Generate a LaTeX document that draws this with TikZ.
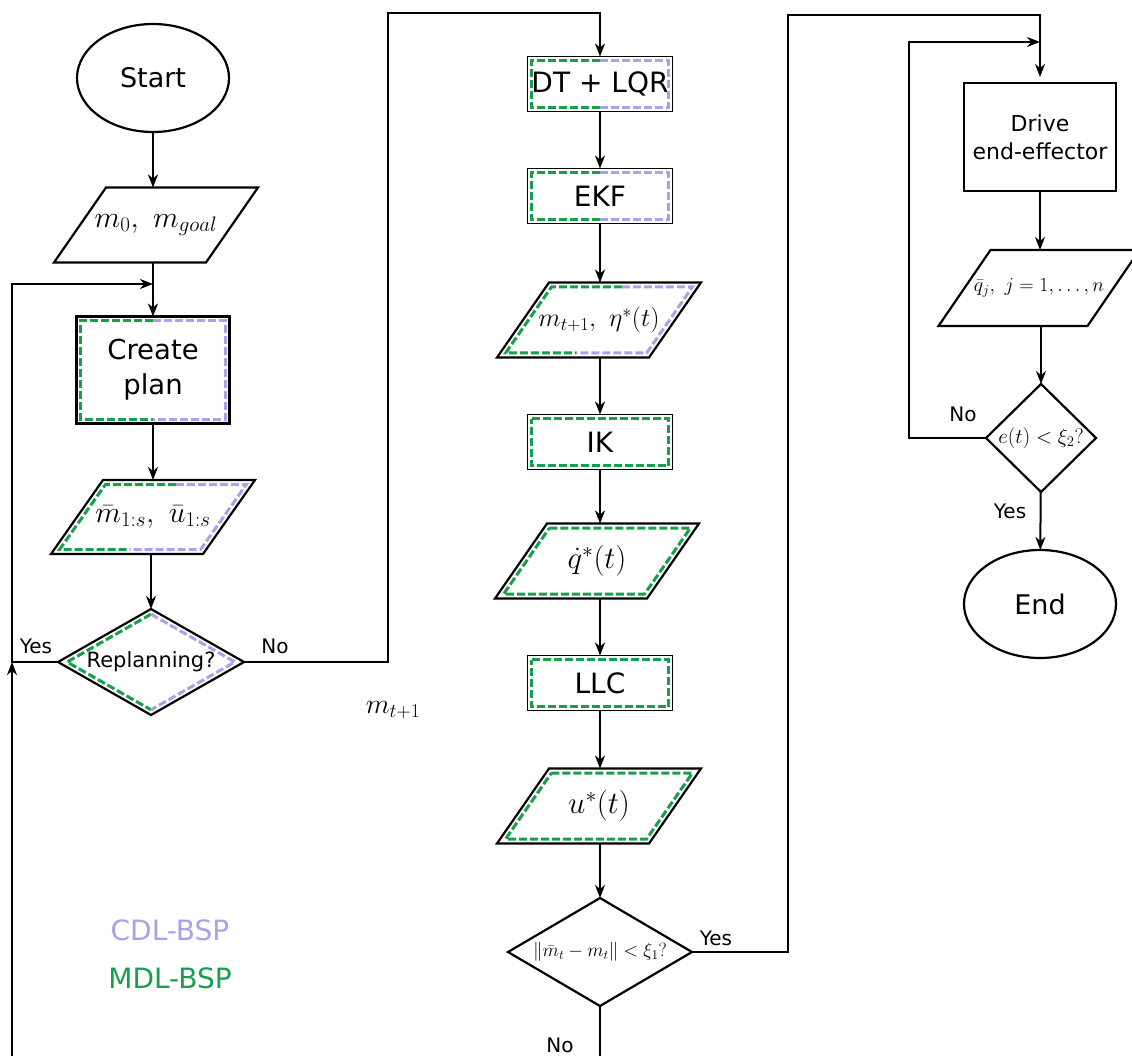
\RequirePackage{fix-cm}
\documentclass[tikz,border=0pt]{standalone}
\usepackage[no-math]{fontspec}
\setmainfont{DejaVu Sans}
\usetikzlibrary{shapes.geometric,arrows.meta,calc}
\definecolor{mdl}{RGB}{22,160,75}
\definecolor{cdl}{RGB}{172,160,234}
\newcommand{\fsz}[2]{\fontsize{#1}{#2}\selectfont}
% parallelogram helpers (slant 52, inset 4.5)
\newcommand{\paraouter}[1]{%
  \draw[outl] ($(#1.north west)+(26,0)$) -- ($(#1.north east)+(26,0)$) --
    ($(#1.south east)+(-26,0)$) -- ($(#1.south west)+(-26,0)$) -- cycle;}
\newcommand{\parasplit}[1]{%
  \draw[dsh,mdl] ($(#1.north)+(22.9,4.5)$) -- ($(#1.north west)+(28.4,4.5)$) --
    ($(#1.south west)+(-17.4,-4.5)$) -- ($(#1.south)+(-22.9,-4.5)$);
  \draw[dsh,cdl] ($(#1.north)+(22.9,4.5)$) -- ($(#1.north east)+(17.4,4.5)$) --
    ($(#1.south east)+(-28.4,-4.5)$) -- ($(#1.south)+(-22.9,-4.5)$);}
\newcommand{\paragreen}[1]{%
  \draw[dsh,mdl] ($(#1.north west)+(28.4,4.5)$) -- ($(#1.north east)+(17.4,4.5)$) --
    ($(#1.south east)+(-28.4,-4.5)$) -- ($(#1.south west)+(-17.4,-4.5)$) -- cycle;}
% rectangle helpers (inset 4)
\newcommand{\rectsplit}[1]{%
  \draw[dsh,mdl] ($(#1.north)+(0,4)$) -- ($(#1.north west)+(4,4)$) --
    ($(#1.south west)+(4,-4)$) -- ($(#1.south)+(0,-4)$);
  \draw[dsh,cdl] ($(#1.north)+(0,4)$) -- ($(#1.north east)+(-4,4)$) --
    ($(#1.south east)+(-4,-4)$) -- ($(#1.south)+(0,-4)$);}
\newcommand{\rectgreen}[1]{%
  \draw[dsh,mdl] ($(#1.north west)+(4,4)$) -- ($(#1.north east)+(-4,4)$) --
    ($(#1.south east)+(-4,-4)$) -- ($(#1.south west)+(4,-4)$) -- cycle;}
\newcommand{\diamouter}[1]{%
  \draw[outl] (#1.north) -- (#1.east) -- (#1.south) -- (#1.west) -- cycle;}
\begin{document}
\begin{tikzpicture}[x=1pt,y=-1pt,
  outl/.style={line width=2.2pt,line join=miter},
  arr/.style={line width=2pt,-{Stealth[length=13pt,width=10pt,inset=4pt]}},
  plainl/.style={line width=2pt},
  dsh/.style={line width=3pt,dash pattern=on 8pt off 3pt},
  box/.style={rectangle,draw,line width=2.2pt,inner sep=0pt,outer sep=0pt,align=center},
  sbox/.style={rectangle,draw,line width=1.5pt,inner sep=0pt,outer sep=0pt,align=center,
    minimum width=145pt,minimum height=55pt,font=\fsz{28}{33}},
  term/.style={ellipse,draw,line width=2.2pt,minimum width=152pt,minimum height=108pt,
    inner sep=0pt,outer sep=0pt,font=\fsz{27}{32}},
  ghost/.style={rectangle,inner sep=0pt,outer sep=0pt,align=center},
  lbl/.style={font=\fsz{20}{24},inner sep=0pt}
]
\useasboundingbox (0,0) rectangle (1132,1056);

% ---------------- column 1 ----------------
\node[term] (start) at (153,78) {Start};
\node[ghost,minimum width=152pt,minimum height=75pt] (m0) at (156,225)
  {\fsz{30}{36}$m_0,\ m_{goal}$};
\paraouter{m0}
\node[box,minimum width=153pt,minimum height=107pt,font=\fsz{27.5}{35}] (plan) at (153,370)
  {Create\\plan};
\rectsplit{plan}
\node[ghost,minimum width=152pt,minimum height=74pt] (mbar) at (153,517)
  {\fsz{30}{36}$\bar m_{1:s},\ \bar u_{1:s}$};
\paraouter{mbar}
\parasplit{mbar}
\node[ghost,minimum width=186pt,minimum height=106pt,font=\fsz{21}{25}] (rep) at (151,662)
  {Replanning?};
\diamouter{rep}
\draw[dsh,mdl] ($(rep.north)+(0,5.2)$) -- ($(rep.west)+(9.1,0)$) -- ($(rep.south)+(0,-5.2)$);
\draw[dsh,cdl] ($(rep.north)+(0,5.2)$) -- ($(rep.east)+(-9.1,0)$) -- ($(rep.south)+(0,-5.2)$);

\draw[arr] (start) -- (start |- m0.north);
\draw[arr] (plan |- m0.south) -- (plan);
\draw[arr] (plan) -- (plan |- mbar.north);
\draw[arr] (rep |- mbar.south) -- (rep);

\coordinate (lx) at (12,662);
\coordinate (j1) at (153,284);
\coordinate (bl) at (12,1056);
\draw[arr] (rep.west) -- (lx) |- (j1);
\draw[arr] (bl) -- (lx);
\node[lbl] (yes1) at (36,646) {Yes};
\node[lbl] (no1) at (275,646) {No};
\node[inner sep=0pt] (mt1lbl) at (393,710) {\fsz{28}{33}$m_{t+1}$};

% ---------------- column 2 ----------------
\node[sbox] (dt) at (600,84) {DT + LQR};
\rectsplit{dt}
\node[sbox] (ekf) at (600,196) {EKF};
\rectsplit{ekf}
\node[ghost,minimum width=152pt,minimum height=75pt] (mt1) at (599,320)
  {\fsz{26}{31}$m_{t+1},\ \eta^*(t)$};
\paraouter{mt1}
\parasplit{mt1}
\node[sbox] (ik) at (600,442) {IK};
\rectgreen{ik}
\node[ghost,minimum width=152pt,minimum height=75pt] (qd) at (597,561)
  {\fsz{31}{37}$\dot q^*(t)$};
\paraouter{qd}
\paragreen{qd}
\node[sbox] (llc) at (600,683) {LLC};
\rectgreen{llc}
\node[ghost,minimum width=152pt,minimum height=75pt] (us) at (599,806)
  {\fsz{31}{37}$u^*(t)$};
\paraouter{us}
\paragreen{us}
\node[ghost,minimum width=184pt,minimum height=108pt] (chk) at (600,952)
  {\fsz{19}{23}$\|\bar m_t-m_t\|<\xi_1?$};
\diamouter{chk}

\coordinate (n1) at (388,13);
\draw[arr] (rep.east) -| (n1) -| (dt.north);
\draw[arr] (dt) -- (ekf);
\draw[arr] (ekf) -- (ekf |- mt1.north);
\draw[arr] (ik |- mt1.south) -- (ik);
\draw[arr] (ik) -- (ik |- qd.north);
\draw[arr] (llc |- qd.south) -- (llc);
\draw[arr] (llc) -- (llc |- us.north);
\draw[arr] (chk |- us.south) -- (chk);
\coordinate (cb) at (600,1056);
\draw[plainl] (chk.south) -- (cb);
\node[lbl] (no2) at (560,1045) {No};
\node[lbl] (yes2) at (716,938) {Yes};

% ---------------- column 3 ----------------
\node[box,minimum width=152pt,minimum height=108pt,font=\fsz{22}{28}] (drive) at (1040,137)
  {Drive\\end-effector};
\node[ghost,minimum width=149pt,minimum height=76pt] (qbar) at (1039,288)
  {\fsz{20}{24}$\bar q_j,\ j=1,\ldots,n$};
\paraouter{qbar}
\node[ghost,minimum width=110pt,minimum height=108pt] (ec) at (1041,438)
  {\fsz{21}{25}$e(t)<\xi_2?$};
\diamouter{ec}
\node[term] (end) at (1040,604) {End};

\coordinate (y1) at (788,15);
\draw[arr,shorten >=6pt] (chk.east) -| (y1) -| (drive.north);
\draw[arr] (drive) -- (drive |- qbar.north);
\draw[arr] (ec |- qbar.south) -- (ec);
\draw[arr] (ec) -- (end);
\coordinate (n2) at (909,42);
\coordinate (j2) at (1040,42);
\draw[arr] (ec.west) -| (n2) -- (j2);
\node[lbl] (no3) at (963,414) {No};
\node[lbl] (yes3) at (1010,511) {Yes};

% ---------------- legend ----------------
\node[inner sep=0pt,text=cdl,font=\fsz{28}{33}] (lcdl) at (170,930) {CDL-BSP};
\node[inner sep=0pt,text=mdl,font=\fsz{28}{33}] (lmdl) at (170,978) {MDL-BSP};
\end{tikzpicture}
\end{document}
